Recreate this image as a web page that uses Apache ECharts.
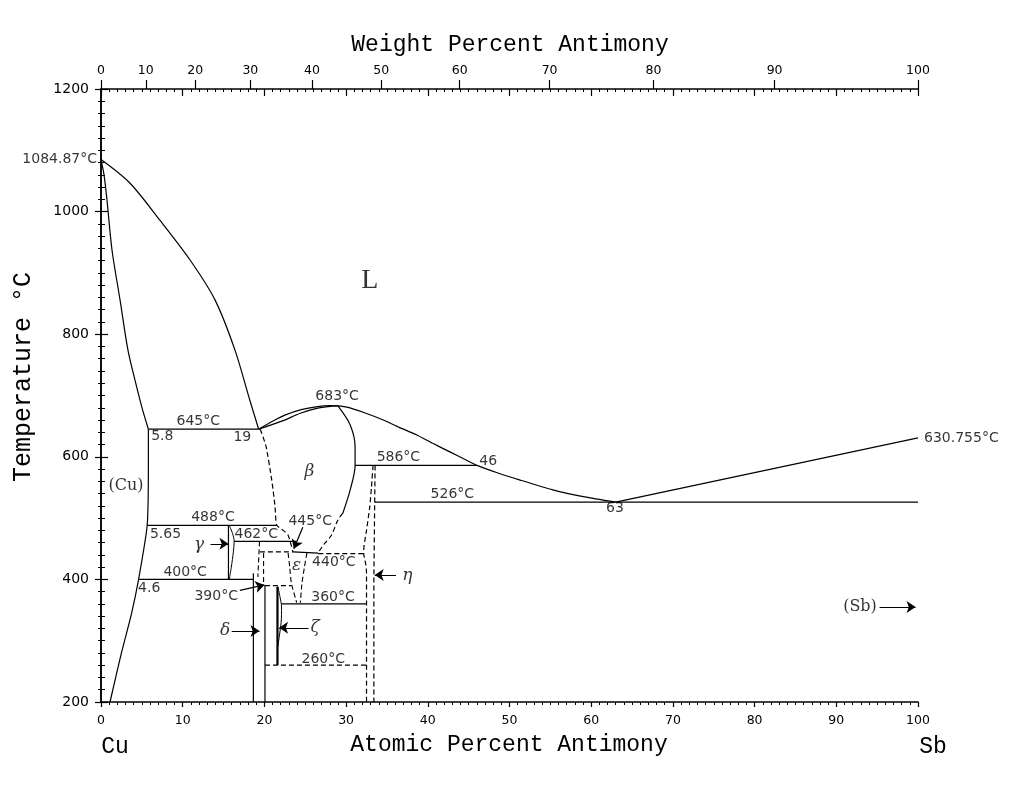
<!DOCTYPE html>
<html>
<head>
<meta charset="utf-8">
<script src="https://cdn.jsdelivr.net/npm/echarts@6.0.0/dist/echarts.min.js"></script>
<style>html,body{margin:0;padding:0;background:#fff;}#chart{width:1024px;height:808px;}</style>
</head>
<body>
<div id="chart"></div>
<script>
// ---------- DATA (x = atomic % Sb, y = temperature °C) ----------
const weightTicks = [0, 10, 20, 30, 40, 50, 60, 70, 80, 90, 100];

const cuLiquidus   = [[0,1084.87],[3.5,1047],[7.2,986],[10.9,921],[13.95,856],[16.4,774],[18.2,693],[19.3,645]];
const cuSolidus    = [[0,1084.87],[0.37,1060],[0.73,1019],[1.35,937],[2.33,856],[3.3,774],[4.16,725],[5.1,676],[5.8,645]];
const cuSolvus     = [[5.8,645],[5.8,590],[5.65,488],[4.6,400],[3.75,345],[2.5,280],[1.1,200]];
const betaLiquidus = [[19.3,645],[21,658],[22.5,668],[24.5,677],[26.5,682],[28,683.5],[29,683]];
const betaSolidus  = [[19.3,645],[22.3,659],[24.4,671],[26.4,679],[28.2,682.5],[29,683]];
const sbLiquidus   = [[29,683],[30.1,681],[32,673],[34.55,660],[36.5,648],[38.6,636],[40.6,622],[42.7,608],[44.5,596],[46,586],[48.5,574],[51.3,562],[55.3,546],[59.2,534.5],[63,526]];
const sbLiquidus2  = [[63,526],[100,630.755]];
const betaRight    = [[29,683],[30.5,652],[31.1,616],[31.1,586],[30.5,546],[29.6,508]];
const betaRightDash= [[29.6,508],[29.0,497],[28.2,472],[27.4,459],[26.8,448],[26.6,443]];
const betaLeftDash = [[19.5,645],[20.2,617],[20.9,562],[21.3,519],[21.5,489],[22.3,480],[22.9,472],[23.3,455],[23.5,445]];
const gammaLine    = [[15.6,488],[15.6,400]];
const gammaLens    = [[15.7,488],[16.1,475],[16.3,462],[16.2,445],[15.95,420],[15.7,400]];
const deltaLeft    = [[18.65,410],[18.65,200]];
const deltaRight   = [[20.07,391],[20.07,200]];
const zetaLeft     = [[21.6,388],[21.6,260]];
const zetaCurve    = [[21.65,388],[21.9,372],[22.1,355],[22.05,330],[21.8,305],[21.65,290]];
const epsLeft      = [[22.9,443],[23.1,420],[23.3,394],[23.95,362]];
const epsRight     = [[25.2,443],[24.9,420],[24.6,394],[24.4,362]];
const dashVert1    = [[19.4,462],[19.2,404]];
const dashVert2    = [[19.9,443],[19.9,391]];
const etaLeft      = [[33.3,586],[33.1,550],[32.9,519],[32.5,480],[32.2,455],[32.15,443],[32.4,425],[32.5,410],[32.5,200]];
const etaRight     = [[33.55,586],[33.5,526],[33.4,400],[33.4,200]];
const betaBottom   = [[23.5,445],[26.6,443]];

// isotherms: [temperature, from at%, to at%]
const solidIsotherms  = [[645,5.8,19.3],[488,5.65,21.5],[462,16.3,23.9],[400,4.6,18.65],[586,31.1,46],[526,33.5,100],[360,22.1,32.5]];
const dashedIsotherms = [[445,19.45,23.5],[442,26.6,32.1],[390,20.07,23.3],[260,20.07,32.5]];

// arrows: [from, to]
const arrows = [
  [[13.4,458],[15.6,458]],   // gamma
  [[24.7,485],[23.6,450]],   // 445
  [[17.0,382],[20.0,391]],   // 390
  [[16.0,316],[19.4,316]],   // delta
  [[25.4,321],[21.8,321]],   // zeta
  [[36.1,407],[33.5,407]],   // eta
  [[95.3,355],[99.7,355]]    // (Sb)
];

// annotations: [text, at%, °C]
const tempLabels = [['645°C',11.9,658],['683°C',28.9,699],['586°C',36.4,599],['526°C',43.0,539],['488°C',13.7,501],['462°C',19.0,474],['445°C',25.6,495],['440°C',28.5,427],['400°C',10.3,411],['390°C',14.1,373],['360°C',28.4,370],['260°C',27.2,270]];
const compLabels = [['5.8',7.5,634],['19',17.3,631],['5.65',7.9,474],['4.6',5.9,386],['46',47.4,592],['63',62.9,516]];
const phaseLabels = [['β',25.5,576],['γ',12.0,456],['ε',23.95,422],['δ',15.2,316],['ζ',26.2,321],['η',37.5,407]];
const regionLabels = [['(Cu)',3.05,553],['(Sb)',92.9,355]];
const bigLabels = [['L',32.9,888]];
const meltLeft = [['1084.87°C',0,1084.87]];
const meltRight = [['630.755°C',100,630.755]];

// ---------- BUILD ----------
const M_CU = 63.546, M_SB = 121.76;
function wtToAt(w){ if (w <= 0) return 0; if (w >= 100) return 100; const a = w / M_SB, b = (100 - w) / M_CU; return 100 * a / (a + b); }
const weightTickAt = weightTicks.map(wtToAt);

const BLACK = '#000';
const NUMFONT = 'DejaVu Sans';

function line(data, dashed, width, smooth) {
  return { type:'line', data, symbol:'none', showSymbol:false, silent:true, smooth: smooth || false,
    lineStyle:{ color:BLACK, width: width || 1.2, type: dashed ? [5,3] : 'solid' }, z:3, clip:false };
}
function textSeries(arr, labelOpts) {
  return { type:'scatter', silent:true, symbolSize:0.01, clip:false, itemStyle:{color:'rgba(0,0,0,0)'},
    data: arr.map(a => ({ value:[a[1], a[2]], name:a[0] })),
    label: Object.assign({ show:true, position:'inside', formatter: p => p.name, color:BLACK }, labelOpts), z:5 };
}

const series = [
  line(cuLiquidus, false, 1.2, 0.3),
  line(cuSolidus, false, 1.2, 0.3),
  line(cuSolvus, false, 1.2, 0.2),
  line(betaLiquidus, false, 1.2, 0.3),
  line(betaSolidus, false, 1.2, 0.3),
  line(sbLiquidus, false, 1.2, 0.2),
  line(sbLiquidus2, false, 1.2),
  line(betaRight, false, 1.2, 0.3),
  line(betaRightDash, true, 1.2, 0.3),
  line(betaLeftDash, true, 1.2, 0.2),
  line(gammaLine, false, 1.2),
  line(gammaLens, false, 1, 0.3),
  line(deltaLeft, false, 1.2),
  line(deltaRight, false, 1.2),
  line(zetaLeft, false, 2.2),
  line(zetaCurve, false, 1, 0.3),
  line(epsLeft, true, 1.1, 0.2),
  line(epsRight, true, 1.1, 0.2),
  line(dashVert1, true, 1.1),
  line(dashVert2, true, 1.1),
  line(etaLeft, true, 1.2, 0.2),
  line(etaRight, true, 1.2),
  line(betaBottom, false, 1.2)
];
solidIsotherms.forEach(r => series.push(line([[r[1], r[0]], [r[2], r[0]]], false, 1.2)));
dashedIsotherms.forEach(r => series.push(line([[r[1], r[0]], [r[2], r[0]]], true, 1.2)));
series.push({ type:'lines', coordinateSystem:'cartesian2d', silent:true, symbol:['none','arrow'], symbolSize:[0,9],
  lineStyle:{ color:BLACK, width:1.2, opacity:1 }, data: arrows.map(a => ({ coords:[a[0], a[1]] })), z:4 });

series.push(textSeries(tempLabels,  { fontFamily:NUMFONT, fontSize:14 }));
series.push(textSeries(compLabels,  { fontFamily:NUMFONT, fontSize:14 }));
series.push(textSeries(phaseLabels, { fontFamily:'DejaVu Serif', fontSize:17, fontStyle:'italic' }));
series.push(textSeries(regionLabels,{ fontFamily:'DejaVu Serif', fontSize:16 }));
series.push(textSeries(bigLabels,   { fontFamily:'Liberation Serif', fontSize:28 }));
series.push(textSeries(meltLeft,    { fontFamily:NUMFONT, fontSize:14, position:'left', distance:4 }));
series.push(textSeries(meltRight,   { fontFamily:NUMFONT, fontSize:14, position:'right', distance:6 }));

const axisLine = { show:true, lineStyle:{ color:BLACK, width:1.5 } };
const tickStyle = { color:BLACK, width:1.2 };
const minorStyle = { color:BLACK, width:1 };

const option = {
  animation:false,
  backgroundColor:'#fff',
  grid:{ left:101, right:106, top:89, bottom:106, containLabel:false, outerBoundsMode:'none' },
  xAxis:[
    { type:'value', position:'bottom', min:0, max:100, interval:10, axisLine,
      axisTick:{ show:true, length:5, lineStyle:tickStyle },
      minorTick:{ show:true, splitNumber:10, length:3, lineStyle:minorStyle },
      axisLabel:{ color:BLACK, fontFamily:NUMFONT, fontSize:12.5, margin:12, formatter: v => String(v) },
      splitLine:{ show:false }, minorSplitLine:{ show:false } },
    { type:'value', position:'top', min:0, max:100, interval:10, axisLine,
      axisTick:{ show:true, inside:true, length:7, lineStyle:tickStyle },
      minorTick:{ show:true, splitNumber:10, length:3, lineStyle:minorStyle },
      axisLabel:{ show:false }, splitLine:{ show:false } },
    { type:'value', position:'top', min:0, max:100, axisLine:{ show:false },
      axisTick:{ show:true, customValues:weightTickAt, length:9, lineStyle:tickStyle },
      axisLabel:{ show:true, customValues:weightTickAt, color:BLACK, fontFamily:NUMFONT, fontSize:12.5, margin:12,
        formatter: v => { let b = 0; for (let i = 0; i < weightTickAt.length; i++) if (Math.abs(weightTickAt[i]-v) < Math.abs(weightTickAt[b]-v)) b = i; return String(weightTicks[b]); } },
      splitLine:{ show:false } }
  ],
  yAxis:[
    { type:'value', position:'left', min:200, max:1200, interval:200, axisLine,
      axisTick:{ show:true, length:6, lineStyle:tickStyle },
      minorTick:{ show:true, splitNumber:10, length:3, lineStyle:minorStyle },
      axisLabel:{ color:BLACK, fontFamily:NUMFONT, fontSize:14, margin:12, formatter: v => String(v) },
      splitLine:{ show:false } },
    { type:'value', position:'right', min:200, max:1200, interval:200, axisLine,
      axisTick:{ show:true, length:7, lineStyle:tickStyle },
      minorTick:{ show:true, splitNumber:10, length:4, lineStyle:minorStyle },
      axisLabel:{ show:false }, splitLine:{ show:false } }
  ],
  graphic:[
    { type:'text', x:510, y:45, style:{ text:'Weight Percent Antimony', font:'23px "Liberation Mono"', fill:BLACK, align:'center', verticalAlign:'middle' } },
    { type:'text', x:509, y:745, style:{ text:'Atomic Percent Antimony', font:'23px "Liberation Mono"', fill:BLACK, align:'center', verticalAlign:'middle' } },
    { type:'text', x:115, y:747, style:{ text:'Cu', font:'23px "Liberation Mono"', fill:BLACK, align:'center', verticalAlign:'middle' } },
    { type:'text', x:933, y:747, style:{ text:'Sb', font:'23px "Liberation Mono"', fill:BLACK, align:'center', verticalAlign:'middle' } },
    { type:'text', x:23, y:377, rotation:Math.PI/2, style:{ text:'Temperature °C', font:'25px "Liberation Mono"', fill:BLACK, align:'center', verticalAlign:'middle' } }
  ],
  series: series.map(s => Object.assign(s, s.type === 'lines' ? {} : { xAxisIndex:0, yAxisIndex:0 }))
};

const chart = echarts.init(document.getElementById('chart'), null, { renderer:'canvas' });
chart.setOption(option);
</script>
</body>
</html>
